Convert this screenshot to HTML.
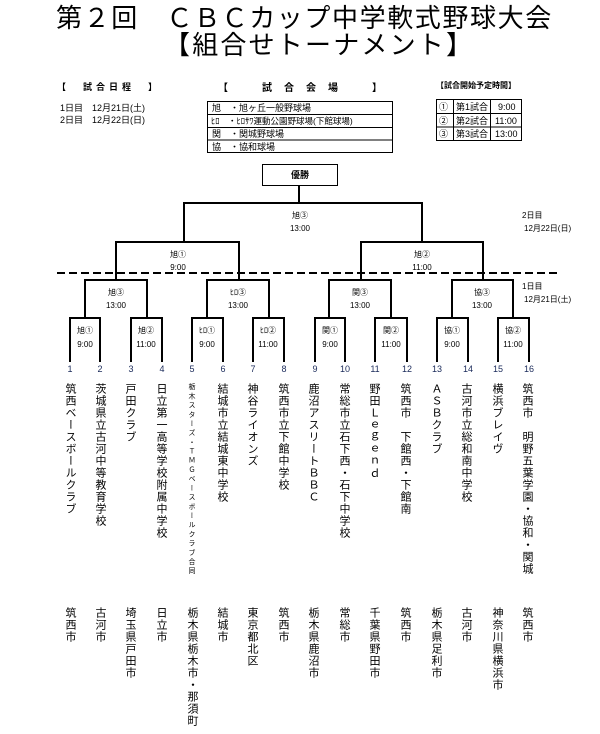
<!DOCTYPE html>
<html><head><meta charset="utf-8"><style>
body{margin:0;background:#fff;}
#p{position:relative;width:600px;height:734px;overflow:hidden;font-family:"Liberation Sans","Noto Sans CJK JP",sans-serif;color:#000;}
.t{position:absolute;white-space:nowrap;}
.v{position:absolute;writing-mode:vertical-rl;text-orientation:upright;font-size:11px;letter-spacing:1px;line-height:12px;white-space:nowrap;}
svg{position:absolute;left:0;top:0;}
</style></head><body><div id="p">
<div class="t" style="left:56px;top:4px;font-size:26px;letter-spacing:1.6px;line-height:28px;">第２回　ＣＢＣカップ中学軟式野球大会</div>
<div class="t" style="left:164px;top:31px;font-size:26px;letter-spacing:2.2px;line-height:28px;">【組合せトーナメント】</div>

<div class="t" style="left:57px;top:80px;font-size:9px;font-weight:bold;letter-spacing:4px;">【　試合日程　】</div>
<div class="t" style="left:60px;top:102px;font-size:9px;line-height:12px;">1日目　12月21日(土)<br>2日目　12月22日(日)</div>
<div class="t" style="left:218px;top:79px;font-size:10px;font-weight:bold;letter-spacing:12px;">【　試合会場　】</div>
<div class="t" style="left:436px;top:80px;font-size:8px;font-weight:bold;">【試合開始予定時間】</div>

<svg width="600" height="734" viewBox="0 0 600 734">
<g fill="none" stroke="#000" stroke-width="1">
<rect x="207.5" y="101.5" width="185" height="51"/>
<line x1="207" y1="114.5" x2="392" y2="114.5"/><line x1="207" y1="127.5" x2="392" y2="127.5"/><line x1="207" y1="140" x2="392" y2="140"/>
<rect x="436.5" y="99.5" width="85" height="41"/>
<line x1="436" y1="113.5" x2="521" y2="113.5"/><line x1="436" y1="127" x2="521" y2="127"/>
<line x1="453.5" y1="99" x2="453.5" y2="140"/><line x1="490.5" y1="99" x2="490.5" y2="140"/>
<rect x="262.5" y="164.5" width="75" height="21"/>
</g>
<g fill="none" stroke="#000" stroke-width="2">
<path d="M299 186V203M184 242V203H422V242"/>
<path d="M116 280V242H239V280M361 280V242H483V280"/>
<path d="M70 362V318H100V362M85 318V280H147V318M131 362V318H162V362"/>
<path d="M192 362V318H223V362M207 318V280H269V318M253 362V318H284V362"/>
<path d="M315 362V318H345V362M329 318V280H391V318M375 362V318H407V362"/>
<path d="M437 362V318H468V362M452 318V280H513V318M498 362V318H529V362"/>
<line x1="57" y1="273" x2="560" y2="273" stroke-dasharray="8 4"/>
</g>
<g font-size="9" font-family="Liberation Sans,Noto Sans CJK JP,sans-serif">
<text x="212" y="111">旭　・旭ヶ丘一般野球場</text>
<text x="211" y="124" font-size="8.5">ﾋﾛ　・ﾋﾛｻﾜ運動公園野球場(下館球場)</text>
<text x="212" y="137">関　・関城野球場</text>
<text x="212" y="150">協　・協和球場</text>
<text x="439" y="110">①</text><text x="456" y="110">第1試合</text><text x="498" y="110">9:00</text>
<text x="439" y="124">②</text><text x="456" y="124">第2試合</text><text x="495" y="124">11:00</text>
<text x="439" y="137">③</text><text x="456" y="137">第3試合</text><text x="495" y="137">13:00</text>
<text x="300" y="178" text-anchor="middle" font-weight="bold">優勝</text>
</g>
<g font-size="8" text-anchor="middle" font-family="Liberation Sans,Noto Sans CJK JP,sans-serif">
<text x="300" y="218">旭③</text><text x="300" y="231">13:00</text>
<text x="178" y="257">旭①</text><text x="178" y="270">9:00</text>
<text x="422" y="257">旭②</text><text x="422" y="270">11:00</text>
<text x="116" y="295">旭③</text><text x="116" y="308">13:00</text>
<text x="238" y="295">ﾋﾛ③</text><text x="238" y="308">13:00</text>
<text x="360" y="295">関③</text><text x="360" y="308">13:00</text>
<text x="482" y="295">協③</text><text x="482" y="308">13:00</text>
<text x="85" y="333">旭①</text><text x="85" y="347">9:00</text>
<text x="146" y="333">旭②</text><text x="146" y="347">11:00</text>
<text x="207" y="333">ﾋﾛ①</text><text x="207" y="347">9:00</text>
<text x="268" y="333">ﾋﾛ②</text><text x="268" y="347">11:00</text>
<text x="330" y="333">関①</text><text x="330" y="347">9:00</text>
<text x="391" y="333">関②</text><text x="391" y="347">11:00</text>
<text x="452" y="333">協①</text><text x="452" y="347">9:00</text>
<text x="513" y="333">協②</text><text x="513" y="347">11:00</text>
</g>
<g font-size="8" text-anchor="start" font-family="Liberation Sans,Noto Sans CJK JP,sans-serif">
<text x="522" y="218">2日目</text><text x="524" y="231">12月22日(日)</text>
<text x="522" y="289">1日目</text><text x="524" y="302">12月21日(土)</text>
</g>
<g font-size="9" fill="#1a2a5a" text-anchor="middle" font-family="Liberation Sans,sans-serif">
<text x="70" y="372">1</text><text x="100" y="372">2</text><text x="131" y="372">3</text><text x="162" y="372">4</text>
<text x="192" y="372">5</text><text x="223" y="372">6</text><text x="253" y="372">7</text><text x="284" y="372">8</text>
<text x="315" y="372">9</text><text x="345" y="372">10</text><text x="375" y="372">11</text><text x="407" y="372">12</text>
<text x="437" y="372">13</text><text x="468" y="372">14</text><text x="498" y="372">15</text><text x="529" y="372">16</text>
</g>
</svg>

<div class="v" style="left:64px;top:383px;">筑西ベースボールクラブ</div>
<div class="v" style="left:94px;top:383px;">茨城県立古河中等教育学校</div>
<div class="v" style="left:124px;top:383px;">戸田クラブ</div>
<div class="v" style="left:155px;top:383px;">日立第一高等学校附属中学校</div>
<div class="v" style="left:187px;top:383px;font-size:7px;letter-spacing:2.2px;line-height:9px;">栃木スターズ・ＴＭＧベースボールクラブ合同</div>
<div class="v" style="left:216px;top:383px;">結城市立結城東中学校</div>
<div class="v" style="left:246px;top:383px;">神谷ライオンズ</div>
<div class="v" style="left:277px;top:383px;">筑西市立下館中学校</div>
<div class="v" style="left:307px;top:383px;">鹿沼アスリートＢＢＣ</div>
<div class="v" style="left:338px;top:383px;">常総市立石下西・石下中学校</div>
<div class="v" style="left:368px;top:383px;">野田Ｌｅｇｅｎｄ</div>
<div class="v" style="left:399px;top:383px;">筑西市　下館西・下館南</div>
<div class="v" style="left:430px;top:383px;">ＡＳＢクラブ</div>
<div class="v" style="left:460px;top:383px;">古河市立総和南中学校</div>
<div class="v" style="left:491px;top:383px;">横浜ブレイヴ</div>
<div class="v" style="left:521px;top:383px;">筑西市　明野五葉学園・協和・関城</div>

<div class="v" style="left:64px;top:607px;">筑西市</div>
<div class="v" style="left:94px;top:607px;">古河市</div>
<div class="v" style="left:124px;top:607px;">埼玉県戸田市</div>
<div class="v" style="left:155px;top:607px;">日立市</div>
<div class="v" style="left:186px;top:607px;">栃木県栃木市・那須町</div>
<div class="v" style="left:216px;top:607px;">結城市</div>
<div class="v" style="left:246px;top:607px;">東京都北区</div>
<div class="v" style="left:277px;top:607px;">筑西市</div>
<div class="v" style="left:307px;top:607px;">栃木県鹿沼市</div>
<div class="v" style="left:338px;top:607px;">常総市</div>
<div class="v" style="left:368px;top:607px;">千葉県野田市</div>
<div class="v" style="left:399px;top:607px;">筑西市</div>
<div class="v" style="left:430px;top:607px;">栃木県足利市</div>
<div class="v" style="left:460px;top:607px;">古河市</div>
<div class="v" style="left:491px;top:607px;">神奈川県横浜市</div>
<div class="v" style="left:521px;top:607px;">筑西市</div>
</div></body></html>
